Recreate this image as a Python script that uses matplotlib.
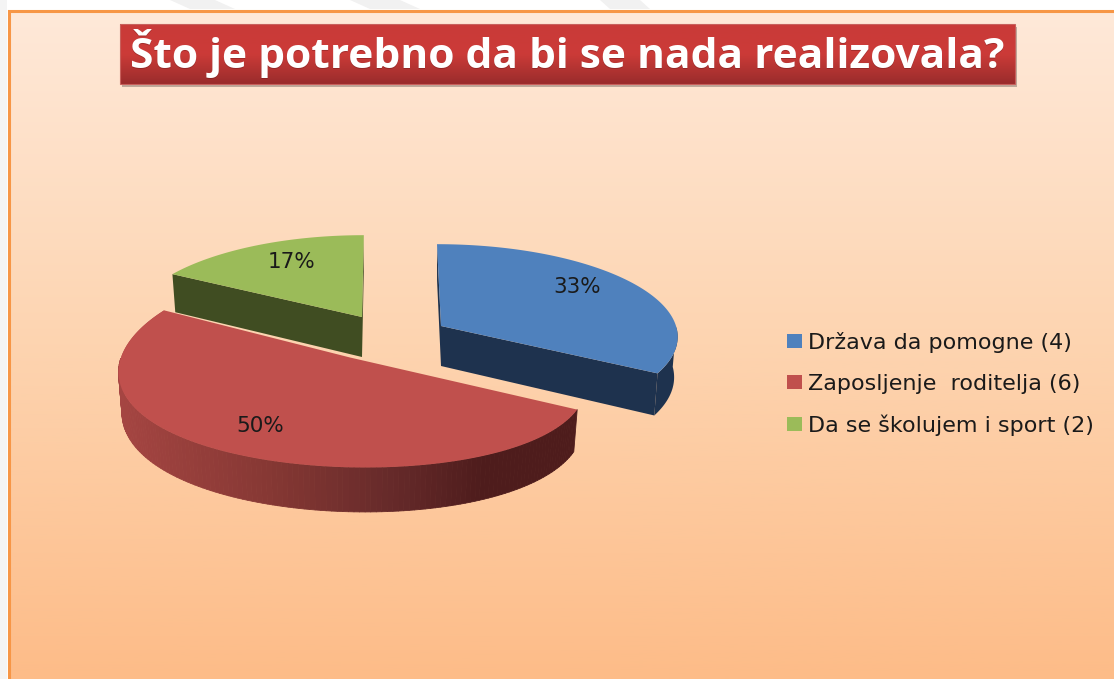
import numpy as np
import matplotlib
matplotlib.use("Agg")
import matplotlib.pyplot as plt
from matplotlib.colors import LinearSegmentedColormap
from matplotlib.collections import PolyCollection
from matplotlib.patches import Patch, Rectangle, Polygon

# --- data ---
title = "Što je potrebno da bi se nada realizovala?"
categories = ["Država da pomogne (4)", "Zaposljenje  roditelja (6)", "Da se školujem i sport (2)"]
values = [4, 6, 2]

# --- style / layout ---
top_colors = ["#4F81BD", "#C0504D", "#9BBB59"]
side_colors = ["#1E324E", None, "#404D22"]
slice_center = [(441, 326), (350, 357.5), (362, 317)]
slice_rx = [235, 229, 231]
slice_ry = [90, 99, 90]
slice_skew = [-4.4, -12.3, 2]
slice_px = [0.1, 0.2, 0.1]
label_r = [0.70, 0.75, 0.65]
label_dy = [-9, 0, -7]
PERSP, DEPTH, TAPER = 0.1, 40, 0.985

fig = plt.figure(figsize=(11.14, 6.79), dpi=100, facecolor="white")
ax = fig.add_axes([0, 0, 1, 1])
ax.set_axis_off()

# page background stripes
for xs in ([(170, 0), (215, 0), (235, 9), (190, 9)], [(350, 0), (400, 0), (420, 9), (370, 9)],
           [(600, 0), (640, 0), (650, 9), (610, 9)]):
    ax.add_patch(Polygon(xs, closed=True, fc="#F1F1F1", ec="none", zorder=0))
ax.add_patch(Rectangle((0, 0), 7, 679, fc="#F4F4F4", ec="none", zorder=0))

# panel gradient
panel_cmap = LinearSegmentedColormap.from_list("panel", ["#FFE9D9", "#FDD4B0", "#FDBC88"])
ax.imshow(np.linspace(0, 1, 256)[:, None], extent=(9, 1114, 679, 10), cmap=panel_cmap,
          aspect="auto", zorder=1)
ax.plot([8.8, 8.8, 1114], [679, 10.5, 10.5], color="#F79646", lw=2.2, zorder=2,
        solid_joinstyle="miter")

# title box
ax.add_patch(Rectangle((122, 27), 895, 60, fc="#8A7A70", ec="none", alpha=0.55, zorder=2))
title_cmap = LinearSegmentedColormap.from_list("title", ["#C93A38", "#CC3B38", "#9A2C2C"])
ax.imshow(np.linspace(0, 1, 64)[:, None], extent=(120, 1015, 84, 24), cmap=title_cmap,
          aspect="auto", zorder=3)
ax.add_patch(Rectangle((120, 24), 895, 60, fc="none", ec="#C8605C", lw=0.8, zorder=4))
ax.text(567.5, 54.5, title, color="#5A1414", alpha=0.35, fontsize=30.6, fontweight="bold",
        family="Open Sans", ha="center", va="center", zorder=4)
ax.text(567, 54, title, color="white", fontsize=30.6, fontweight="bold",
        family="Open Sans", ha="center", va="center", zorder=5)


def project(i, theta, r=1.0, z=0.0):
    """Angle clockwise from north -> picture position, with mild perspective."""
    X, Y = r * np.sin(theta), r * np.cos(theta)
    w = 1 + PERSP * Y
    wx = 1 + slice_px[i] * Y
    cx, cy = slice_center[i]
    taper = TAPER if z else 1.0
    x = cx + taper * (slice_rx[i] * X + slice_skew[i] * Y) / wx
    y = cy - slice_ry[i] * Y / w + z * DEPTH / w
    return x, y


fractions = np.array(values, dtype=float) / sum(values)
edges = np.concatenate([[0], np.cumsum(fractions)]) * 2 * np.pi
rim_cmap = LinearSegmentedColormap.from_list(
    "rim", [(0, "#A54542"), (0.35, "#843733"), (0.6, "#662A2A"), (0.8, "#4E1C1C"), (1, "#4E1C1C")])
draw_order = [2, 1, 0]
for n, i in enumerate(draw_order):
    z0 = 10 + n * 2
    a0, a1 = edges[i], edges[i + 1]
    t = np.linspace(a0, a1, 160)
    tx, ty = project(i, t)
    bx, by = project(i, t, z=1)
    ax_, ay_ = project(i, 0.0, r=0.0)
    bax, bay = project(i, 0.0, r=0.0, z=1)
    # rim: only the part facing the viewer (front half of the circle)
    front = (t >= np.pi / 2) & (t <= 3 * np.pi / 2)
    idx = np.where(front)[0]
    if side_colors[i] is None:
        quads = [[(tx[k], ty[k]), (tx[k + 1], ty[k + 1]), (bx[k + 1], by[k + 1]), (bx[k], by[k])]
                 for k in idx[:-1]]
        shade = np.array([(q[0][0] - tx[idx].min()) / np.ptp(tx[idx]) for q in quads])
        pc = PolyCollection(quads, array=shade, cmap=rim_cmap, clim=(0, 1),
                            edgecolors="face", linewidths=0.6, zorder=z0)
        ax.add_collection(pc)
        # left rim, out to the silhouette of the top face
        left = t > 3 * np.pi / 2
        lk = np.where(left)[0]
        ax.fill(np.r_[tx[lk], bx[lk][::-1]], np.r_[ty[lk], by[lk][::-1]],
                color="#A54542", lw=0, zorder=z0)
    else:
        # cut faces
        for a in (a0, a1):
            ex, ey = project(i, a)
            fx, fy = project(i, a, z=1)
            ax.fill([ax_, ex, fx, bax], [ay_, ey, fy, bay], color=side_colors[i], lw=0, zorder=z0)
        if len(idx):
            ax.fill(np.r_[tx[idx], bx[idx][::-1]], np.r_[ty[idx], by[idx][::-1]],
                    color=side_colors[i], lw=0, zorder=z0)
    # top face
    ax.fill(np.r_[ax_, tx], np.r_[ay_, ty], color=top_colors[i], lw=0, zorder=z0 + 1)
    # percentage label
    lx, ly = project(i, (a0 + a1) / 2, r=label_r[i])
    ax.text(lx, ly + label_dy[i], f"{100 * values[i] / sum(values):.0f}%", fontsize=15.5,
            color="#1A1A1A", ha="center", va="center", family="DejaVu Sans", zorder=30)

# legend
handles = [Patch(fc=c, ec="none") for c in top_colors]
ax.legend(handles, categories, loc="upper left", bbox_to_anchor=(767 / 1114, 1 - 312 / 679),
          frameon=False, prop={"family": "DejaVu Sans", "size": 16}, labelspacing=0.94,
          handlelength=0.68, handleheight=0.6, handletextpad=0.27, borderpad=0.4, labelcolor="#1A1A1A")

ax.set_xlim(0, 1114)
ax.set_ylim(679, 0)
fig.savefig("out.png", dpi=100, facecolor="white")
